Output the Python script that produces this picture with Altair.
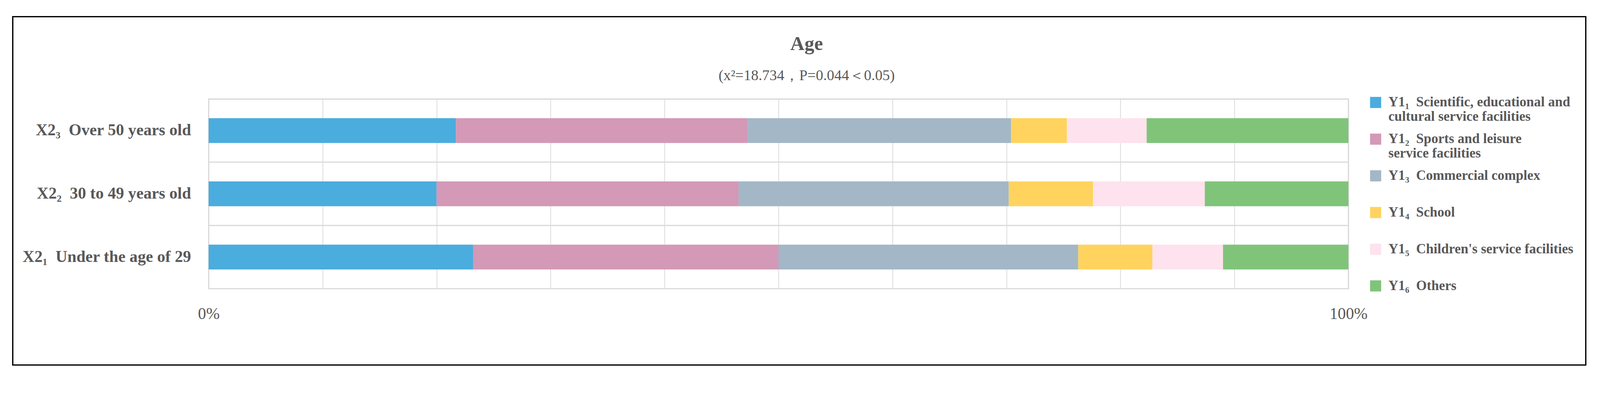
import altair as alt
import pandas as pd

# ---------------- data ----------------
title_text = "Age"
subtitle_text = "(x²=18.734，P=0.044＜0.05)"

groups = [
    "X2₃\u00a0 Over 50 years old",
    "X2₂\u00a0 30 to 49 years old",
    "X2₁\u00a0 Under the age of 29",
]
series = [
    "Y1₁\u00a0 Scientific, educational and|cultural service facilities",
    "Y1₂\u00a0 Sports and leisure|service facilities",
    "Y1₃\u00a0 Commercial complex",
    "Y1₄\u00a0 School",
    "Y1₅\u00a0 Children's service facilities",
    "Y1₆\u00a0 Others",
]
colors = ["#4BACDE", "#D399B6", "#A3B7C6", "#FFD35E", "#FEE2EE", "#80C47A"]

over_50 = [21.7, 25.6, 23.1, 4.9, 7.0, 17.7]
age_30_49 = [20.0, 26.5, 23.7, 7.4, 9.8, 12.6]
under_29 = [23.2, 26.8, 26.3, 6.5, 6.2, 11.0]

x_ticks = [0, 0.1, 0.2, 0.3, 0.4, 0.5, 0.6, 0.7, 0.8, 0.9, 1.0]

rows = []
for g, vals in zip(groups, [over_50, age_30_49, under_29]):
    for i, (s, v) in enumerate(zip(series, vals)):
        rows.append({"group": g, "series": s, "idx": i, "value": v})
df = pd.DataFrame(rows)

FONT = "Liberation Serif"
TXT = "#595959"
GRID = "#d9d9d9"

# every legend label gets two lines, so that all entries are equally tall
label_expr_legend = (
    "indexof(datum.label, '|') >= 0 ? split(datum.label, '|') "
    ": split(datum.label + '|', '|')"
)

bars = alt.Chart(df).mark_bar(size=67).encode(
    x=alt.X(
        "value:Q",
        stack="normalize",
        scale=alt.Scale(domain=[0, 1], nice=False),
        axis=alt.Axis(
            title=None,
            values=x_ticks,
            labelExpr="datum.value == 0 ? '0%' : (datum.value == 1 ? '100%' : '')",
            grid=True,
            gridColor=GRID,
            gridWidth=2,
            domain=False,
            ticks=False,
            tickSize=0,
            labelFont=FONT,
            labelFontSize=44,
            labelColor=TXT,
            labelPadding=46,
            labelFlush=False,
            labelOverlap=False,
        ),
    ),
    y=alt.Y(
        "group:N",
        sort=groups,
        scale=alt.Scale(paddingInner=0, paddingOuter=0),
        axis=alt.Axis(
            title=None,
            domain=False,
            ticks=False,
            tickSize=0,
            grid=True,
            gridColor=GRID,
            gridWidth=3,
            bandPosition=0,
            labelFont=FONT,
            labelFontSize=44,
            labelFontWeight="bold",
            labelColor=TXT,
            labelPadding=48,
            labelLimit=1000,
        ),
    ),
    color=alt.Color(
        "series:N",
        sort=series,
        scale=alt.Scale(domain=series, range=colors),
        legend=alt.Legend(
            title=None,
            orient="none",
            legendX=3133,
            legendY=-9,
            padding=0,
            symbolType="square",
            symbolSize=900,
            symbolStrokeWidth=0,
            labelFont=FONT,
            labelFontSize=37,
            labelFontWeight="bold",
            labelColor=TXT,
            labelOffset=16,
            labelLimit=1200,
            rowPadding=22,
            labelBaseline="middle",
            labelExpr=label_expr_legend,
        ),
    ),
    order=alt.Order("idx:Q"),
)

frame = alt.Chart(pd.DataFrame({"k": [0]})).mark_rect(
    filled=False, stroke="black", strokeWidth=3.5
).encode(
    x=alt.value(-529), x2=alt.value(3719), y=alt.value(-222), y2=alt.value(718)
)

chart = alt.layer(frame, bars).properties(
    width=3078,
    height=512,
    title=alt.TitleParams(
        text=title_text,
        subtitle=subtitle_text,
        font=FONT,
        fontSize=53,
        fontWeight="bold",
        color=TXT,
        subtitleFont=FONT,
        subtitleFontSize=40,
        subtitleFontWeight="normal",
        subtitleColor=TXT,
        subtitlePadding=38,
        offset=-181,
        dx=76,
        anchor="middle",
    ),
    autosize=alt.AutoSizeParams(type="none"),
    padding={"left": 555, "top": 231, "right": 671, "bottom": 259},
).configure_view(stroke=GRID, strokeWidth=3)

chart.save("out.html", embed_options={"renderer": "svg", "actions": False})
